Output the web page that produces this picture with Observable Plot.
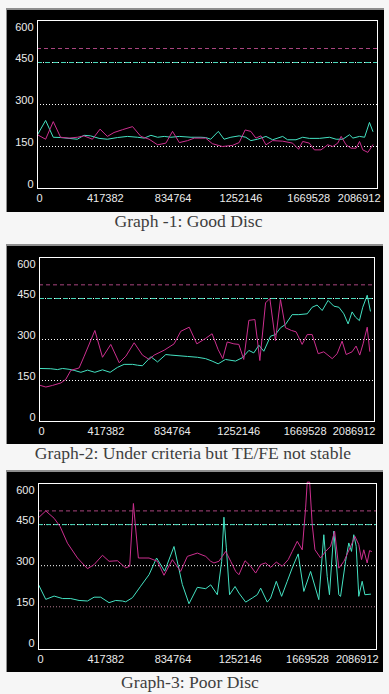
<!DOCTYPE html>
<html>
<head>
<meta charset="utf-8">
<script src="https://cdn.jsdelivr.net/npm/d3@7"></script>
<script src="https://cdn.jsdelivr.net/npm/@observablehq/plot@0.6"></script>
<style>
html, body { margin: 0; padding: 0; background: #f6f6f6; width: 389px; height: 694px; overflow: hidden; }
.panel { position: absolute; background: #000; border-top: 2px solid #8e8e8e; border-left: 1px solid #8e8e8e; }
.panel svg { display: block; }
.cap { position: absolute; left: 0; text-align: center; font-family: "Liberation Serif", "DejaVu Serif", serif; font-size: 17.6px; line-height: 17px; color: #3e3e3e; white-space: nowrap; }
</style>
</head>
<body>
<div id="p1" class="panel" style="left:6px;top:8px;"></div>
<div class="cap" style="top:213px;width:377px;">Graph -1: Good Disc</div>
<div id="p2" class="panel" style="left:6px;top:244px;"></div>
<div class="cap" style="top:445px;width:386px;">Graph-2: Under criteria but TE/FE not stable</div>
<div id="p3" class="panel" style="left:6px;top:470px;"></div>
<div class="cap" style="top:674px;width:380px;">Graph-3: Poor Disc</div>
<script>
// ---- tick labels ----
const xTickValues = [0, 417382, 834764, 1252146, 1669528, 2086912];
const xTickLabels = ["0", "417382", "834764", "1252146", "1669528", "2086912"];
const yTickValues = [0, 150, 300, 450, 600];
const yTickLabels = ["0", "150", "300", "450", "600"];

// ---- reference levels ----
const dottedLevels = [150, 300];
const cyanLimit = 450;
const magentaLimit = 500;

// ---- Graph 1: Good Disc ----
const g1MagentaX = [0, 50000, 97000, 142000, 194000, 245000, 286000, 338000, 385000, 430000, 471000, 523000, 585000, 636000, 687000, 739000, 790000, 831000, 873000, 924000, 965000, 1035000, 1076000, 1138000, 1200000, 1241000, 1278000, 1313000, 1344000, 1375000, 1406000, 1447000, 1509000, 1570000, 1607000, 1632000, 1673000, 1704000, 1745000, 1786000, 1817000, 1848000, 1869000, 1899000, 1930000, 1961000, 1982000, 2002000, 2033000, 2064000];
const g1MagentaY = [192, 176, 239, 183, 180, 183, 188, 176, 212, 186, 200, 210, 221, 186, 176, 156, 162, 204, 164, 171, 180, 180, 160, 150, 154, 164, 209, 204, 180, 188, 156, 171, 169, 162, 140, 168, 162, 138, 138, 156, 150, 162, 186, 156, 144, 144, 168, 138, 129, 156];
const g1CyanX = [0, 50000, 97000, 142000, 194000, 245000, 286000, 327000, 379000, 430000, 492000, 554000, 615000, 657000, 698000, 739000, 780000, 821000, 873000, 945000, 1006000, 1035000, 1066000, 1113000, 1148000, 1190000, 1241000, 1282000, 1313000, 1354000, 1406000, 1447000, 1509000, 1539000, 1591000, 1632000, 1673000, 1735000, 1797000, 1838000, 1879000, 1920000, 1941000, 1982000, 2013000, 2043000, 2064000];
const g1CyanY = [192, 243, 183, 182, 179, 176, 190, 188, 179, 176, 182, 186, 183, 180, 190, 183, 186, 183, 186, 183, 183, 182, 176, 204, 176, 183, 188, 183, 171, 176, 186, 174, 186, 174, 174, 183, 179, 179, 183, 176, 176, 192, 180, 186, 183, 236, 204];

// ---- Graph 2: Under criteria but TE/FE not stable ----
const g2MagentaX = [0, 40000, 82000, 134000, 165000, 197000, 249000, 281000, 348000, 396000, 448000, 501000, 543000, 595000, 647000, 689000, 721000, 784000, 846000, 888000, 941000, 989000, 1044000, 1085000, 1123000, 1152000, 1180000, 1222000, 1253000, 1284000, 1316000, 1354000, 1385000, 1421000, 1448000, 1483000, 1515000, 1546000, 1584000, 1613000, 1651000, 1683000, 1714000, 1752000, 1787000, 1840000, 1871000, 1902000, 1928000, 1965000, 1990000, 2013000, 2034000, 2060000, 2076000];
const g2MagentaY = [133, 126, 132, 141, 154, 187, 196, 239, 333, 235, 282, 215, 239, 288, 243, 227, 243, 261, 284, 330, 345, 284, 304, 321, 263, 230, 291, 284, 282, 227, 370, 373, 223, 434, 450, 296, 446, 343, 333, 328, 282, 318, 318, 248, 255, 230, 248, 294, 245, 255, 276, 243, 284, 345, 257];
const g2CyanX = [0, 71000, 113000, 145000, 186000, 218000, 260000, 302000, 348000, 396000, 444000, 490000, 532000, 585000, 616000, 647000, 700000, 742000, 794000, 826000, 930000, 993000, 1044000, 1085000, 1123000, 1169000, 1232000, 1274000, 1316000, 1347000, 1379000, 1410000, 1452000, 1483000, 1515000, 1546000, 1588000, 1630000, 1683000, 1714000, 1745000, 1777000, 1814000, 1850000, 1882000, 1913000, 1940000, 1965000, 1986000, 2011000, 2032000, 2060000, 2080000];
const g2CyanY = [194, 193, 190, 194, 191, 187, 180, 188, 180, 189, 180, 198, 209, 209, 206, 204, 237, 218, 245, 243, 238, 235, 230, 221, 211, 227, 221, 233, 260, 251, 279, 257, 312, 318, 343, 355, 391, 391, 394, 418, 426, 406, 443, 422, 418, 394, 357, 401, 382, 369, 418, 462, 404];

// ---- Graph 3: Poor Disc ----
const g3MagentaX = [0, 45000, 97000, 134000, 180000, 242000, 304000, 345000, 397000, 438000, 490000, 541000, 566000, 589000, 620000, 686000, 738000, 779000, 831000, 882000, 924000, 986000, 1038000, 1069000, 1089000, 1120000, 1141000, 1162000, 1193000, 1224000, 1244000, 1282000, 1317000, 1348000, 1379000, 1410000, 1441000, 1476000, 1513000, 1550000, 1575000, 1606000, 1637000, 1658000, 1668000, 1683000, 1699000, 1716000, 1751000, 1782000, 1813000, 1838000, 1864000, 1896000, 1947000, 1964000, 1988000, 2005000, 2019000, 2040000, 2055000, 2067000];
const g3MagentaY = [475, 500, 473, 443, 382, 328, 289, 304, 338, 316, 318, 292, 298, 527, 328, 328, 316, 265, 322, 279, 334, 346, 334, 316, 310, 316, 334, 352, 316, 279, 267, 318, 298, 273, 304, 310, 294, 313, 298, 322, 352, 389, 358, 511, 605, 605, 450, 358, 328, 352, 371, 426, 291, 316, 383, 407, 377, 322, 358, 310, 355, 352];
const g3CyanX = [0, 45000, 97000, 149000, 200000, 252000, 304000, 345000, 386000, 438000, 479000, 521000, 541000, 583000, 634000, 686000, 733000, 783000, 841000, 893000, 934000, 986000, 1038000, 1069000, 1110000, 1137000, 1151000, 1166000, 1186000, 1220000, 1244000, 1286000, 1327000, 1358000, 1379000, 1420000, 1441000, 1476000, 1509000, 1544000, 1579000, 1612000, 1647000, 1689000, 1740000, 1771000, 1792000, 1806000, 1833000, 1864000, 1875000, 1906000, 1926000, 1943000, 1957000, 1972000, 1988000, 2009000, 2026000, 2061000];
const g3CyanY = [231, 177, 189, 180, 180, 173, 171, 185, 185, 165, 173, 171, 168, 183, 225, 267, 328, 280, 370, 231, 161, 221, 216, 230, 194, 316, 477, 365, 194, 224, 200, 167, 182, 194, 218, 167, 182, 243, 188, 243, 298, 343, 206, 279, 176, 413, 261, 194, 426, 194, 188, 316, 383, 352, 413, 371, 188, 243, 194, 196];

const zip = (xs, ys) => xs.map((x, i) => ({x, y: ys[i]}));
const fmtX = d => xTickLabels[xTickValues.indexOf(d)];
const fmtY = d => yTickLabels[yTickValues.indexOf(d)];

function makePanel(id, cfg) {
  const axisOpts = {tickSize: 0, label: null};
  const chart = Plot.plot({
    width: cfg.width,
    height: cfg.height,
    marginLeft: cfg.ml, marginRight: cfg.mr, marginTop: cfg.mt, marginBottom: cfg.mb,
    style: {background: "#000", color: "#ececec", fontFamily: "'Liberation Sans', Arial, sans-serif", fontSize: "11px"},
    x: {domain: [0, cfg.xMax], label: null},
    y: {domain: [cfg.yMin, 600], label: null},
    marks: [
      Plot.ruleY([dottedLevels[0]], {stroke: cfg.c150, strokeDasharray: "1,2"}),
      Plot.ruleY([dottedLevels[1]], {stroke: "#ffffff", strokeDasharray: "1,2"}),
      Plot.ruleY([cyanLimit], {stroke: "#ffffff", strokeDasharray: "1,2"}),
      Plot.ruleY([cyanLimit], {stroke: "#48d6b8", strokeDasharray: "5,3"}),
      Plot.ruleY([magentaLimit], {stroke: "#a8447e", strokeDasharray: "4,3"}),
      Plot.line(zip(cfg.cyanX, cfg.cyanY), {x: "x", y: "y", stroke: "#44e2c2", strokeWidth: 1}),
      Plot.line(zip(cfg.magX, cfg.magY), {x: "x", y: "y", stroke: "#cc2f8f", strokeWidth: 1}),
      Plot.frame({stroke: "#ffffff"}),
      Plot.axisY(yTickValues.slice(0, 4), {...axisOpts, tickPadding: 4, dy: -4, tickFormat: fmtY}),
      Plot.axisY([yTickValues[4]], {...axisOpts, tickPadding: 4, dy: 7, tickFormat: fmtY}),
      Plot.axisX([xTickValues[0]], {...axisOpts, tickPadding: 6, dx: 2, tickFormat: fmtX}),
      Plot.axisX(xTickValues.slice(1, 5), {...axisOpts, tickPadding: 6, tickFormat: fmtX}),
      Plot.axisX([xTickValues[5]], {...axisOpts, tickPadding: 6, textAnchor: "end", dx: 4, tickFormat: fmtX})
    ]
  });
  const el = document.getElementById(id);
  el.style.width = cfg.width + "px";
  el.style.height = cfg.height + "px";
  el.appendChild(chart);
}

makePanel("p1", {width: 377, height: 202, ml: 30, mr: 7, mt: 10, mb: 24, xMax: 2092500, yMin: 0, c150: "#ffffff",
  magX: g1MagentaX, magY: g1MagentaY, cyanX: g1CyanX, cyanY: g1CyanY});
makePanel("p2", {width: 376, height: 198, ml: 32, mr: 9, mt: 11, mb: 23, xMax: 2105800, yMin: 0, c150: "#ffffff",
  magX: g2MagentaX, magY: g2MagentaY, cyanX: g2CyanX, cyanY: g2CyanY});
makePanel("p3", {width: 376, height: 200, ml: 31, mr: 7, mt: 11, mb: 23, xMax: 2098000, yMin: -6, c150: "#b07a8e",
  magX: g3MagentaX, magY: g3MagentaY, cyanX: g3CyanX, cyanY: g3CyanY});
</script>
</body>
</html>
